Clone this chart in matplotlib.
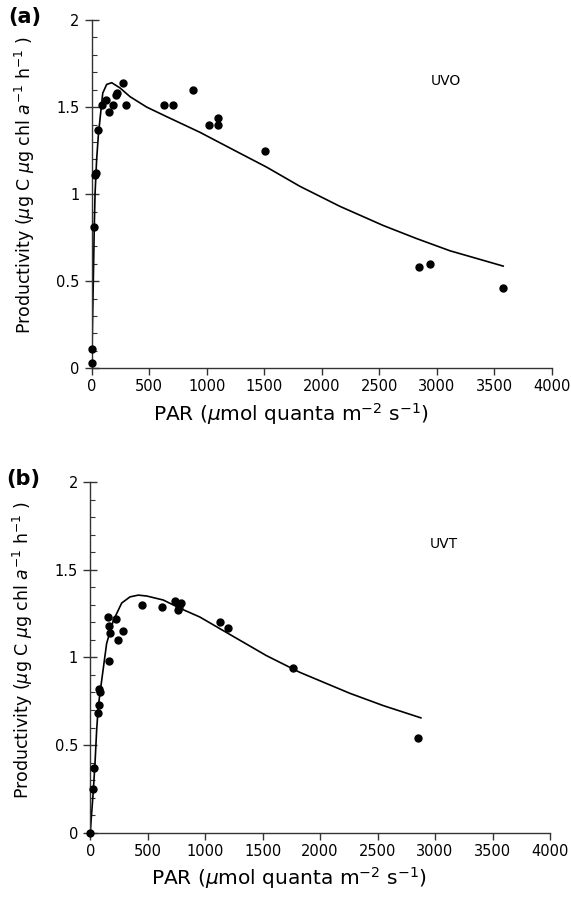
"""Productivity vs PAR, two panels (UVO / UVT)."""

import matplotlib
matplotlib.use("Agg")
import matplotlib.pyplot as plt  # noqa: E402
from matplotlib.ticker import MultipleLocator  # noqa: E402

# panel (a) UVO - measured points
uvo_par = [0, 3, 20, 29, 35, 57, 87, 124, 153, 182, 211, 223, 275, 298,
           629, 704, 878, 1020, 1101, 1101, 1507, 2846, 2945, 3574]
uvo_prod = [0.03, 0.11, 0.81, 1.11, 1.12, 1.37, 1.51, 1.54, 1.47, 1.51, 1.57, 1.58,
            1.64, 1.51, 1.51, 1.51, 1.60, 1.40, 1.44, 1.40, 1.25, 0.58, 0.60, 0.46]
# panel (a) fitted curve
uvo_fit_par = [0, 8, 14, 22, 29, 43, 57, 72, 96, 130, 174, 246, 333, 478, 652,
               942, 1231, 1522, 1811, 2159, 2536, 2826, 3116, 3579]
uvo_fit_prod = [0, 0.3, 0.5, 0.8, 1.0, 1.20, 1.33, 1.43, 1.58, 1.63, 1.64, 1.61, 1.56,
                1.50, 1.445, 1.355, 1.255, 1.155, 1.045, 0.93, 0.82, 0.745, 0.675, 0.587]

# panel (b) UVT - measured points
uvt_par = [0, 27, 33, 70, 76, 79, 85, 151, 166, 171, 166, 223, 238, 287,
           451, 624, 734, 765, 773, 794, 1130, 1196, 1768, 2850]
uvt_prod = [0.0, 0.25, 0.37, 0.68, 0.73, 0.82, 0.80, 1.23, 1.18, 1.14, 0.98, 1.22, 1.10,
            1.15, 1.30, 1.29, 1.32, 1.27, 1.29, 1.31, 1.20, 1.17, 0.94, 0.54]
uvt_fit_par = [0, 27, 42, 56, 70, 100, 143, 201, 274, 346, 418, 491, 636, 781,
               954, 1243, 1533, 1822, 2259, 2549, 2877]
uvt_fit_prod = [0, 0.24, 0.40, 0.585, 0.72, 0.87, 1.08, 1.21, 1.31, 1.345, 1.355, 1.35,
                1.327, 1.28, 1.23, 1.12, 1.01, 0.915, 0.795, 0.725, 0.655]

x_ticks = [0, 500, 1000, 1500, 2000, 2500, 3000, 3500, 4000]
y_ticks = [0, 0.5, 1, 1.5, 2]
y_tick_labels = ["0", "0.5", "1", "1.5", "2"]

panels = [
    ("(a)", "UVO", uvo_par, uvo_prod, uvo_fit_par, uvo_fit_prod,
     [0.1606, 0.5912, 0.8054, 0.3866], 0.526),
    ("(b)", "UVT", uvt_par, uvt_prod, uvt_fit_par, uvt_fit_prod,
     [0.1580, 0.0758, 0.8052, 0.3892], 0.521),
]

fig = plt.figure(figsize=(5.71, 9.01), dpi=100)
AX_COL = "#333333"

for tag, name, px, py, fx, fy, rect, ylab_y in panels:
    ax = fig.add_axes(rect)
    ax.plot(fx, fy, color="black", lw=1.2, zorder=2)
    ax.plot(px, py, "o", color="black", ms=5, zorder=3, clip_on=False)
    ax.set_xlim(0, 4000)
    ax.set_ylim(0, 2)
    ax.set_xticks(x_ticks)
    ax.set_yticks(y_ticks)
    ax.set_yticklabels(y_tick_labels)
    ax.yaxis.set_minor_locator(MultipleLocator(0.1))
    for s in ("top", "right"):
        ax.spines[s].set_visible(False)
    for s in ("left", "bottom"):
        ax.spines[s].set_color(AX_COL)
        ax.spines[s].set_linewidth(1.0)
    ax.tick_params(axis="y", which="major", direction="inout", length=9.5, width=1.0,
                   color=AX_COL, labelsize=10.5, pad=4)
    ax.tick_params(axis="y", which="minor", direction="in", length=3.6, width=0.8, color=AX_COL)
    ax.tick_params(axis="x", which="major", direction="out", length=5, width=1.0,
                   color=AX_COL, labelsize=10.5, pad=3)
    ax.set_xlabel(r"PAR ($\mu$mol quanta m$^{-2}$ s$^{-1}$)", fontsize=14.5)
    ax.xaxis.set_label_coords(0.433, -0.093)
    ax.set_ylabel(r"Productivity ($\mu$g C $\mu$g chl $a^{-1}$ h$^{-1}$ )", fontsize=12.5)
    ax.yaxis.set_label_coords(-0.12, ylab_y)
    ax.text(0.77, 0.813, name, transform=ax.transAxes, fontsize=10, ha="center")
    ax.text(-0.145, 1.01, tag, transform=ax.transAxes, fontsize=15, fontweight="bold",
            ha="center", va="center")

fig.savefig("out.png", dpi=100)
